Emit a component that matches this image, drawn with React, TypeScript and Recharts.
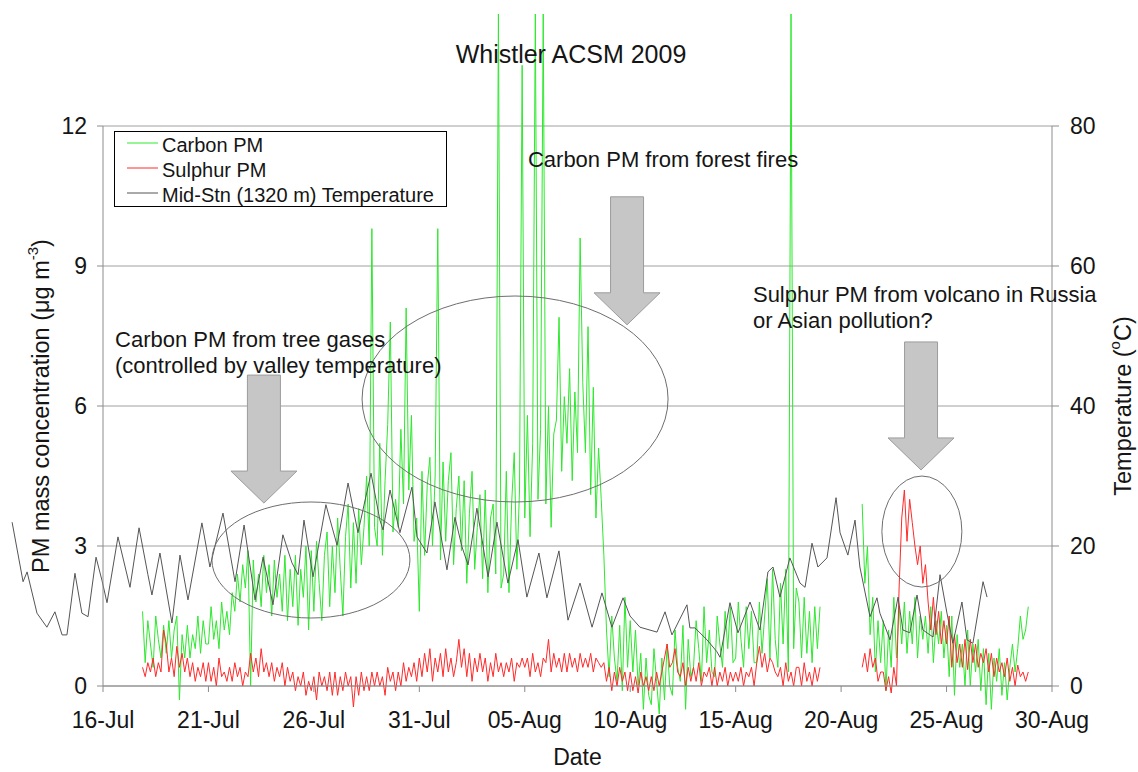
import React from 'react';
import { ComposedChart, Line, XAxis, YAxis, CartesianGrid, ReferenceDot, Legend } from 'recharts';

type V = number | null;
const n = null;

// ---------- axes / categories ----------
const dateTicks = [0, 5, 10, 15, 20, 25, 30, 35, 40, 45]; // days after 16-Jul
const dateTickLabels = ['16-Jul', '21-Jul', '26-Jul', '31-Jul', '05-Aug', '10-Aug', '15-Aug', '20-Aug', '25-Aug', '30-Aug'];
const pmTicks = [0, 3, 6, 9, 12];
const tempTicks = [0, 20, 40, 60, 80];
const seriesNames = ['Carbon PM', 'Sulphur PM', 'Mid-Stn (1320 m) Temperature'];
const chartTitle = 'Whistler ACSM 2009';

// ---------- PM series: one row per day (first row = 17-Jul), samples every 3 h ----------
const pmFirstDay = 1;
const pmSamplesPerDay = 8;

const carbonPM: V[][] = [
  [n, n, n, n, n, n, n, 1.6],
  [0.5, 1.4, 0.9, 0.4, 1.5, 1.0, 0.6, 1.3],
  [0.7, 1.4, 0.6, 1.2, 1.5, -0.3, 1.1, 0.6],
  [1.3, 0.6, 1.1, 0.8, 1.5, 0.7, 1.4, 0.9],
  [0.9, 1.7, 1.0, 1.4, 0.8, 1.8, 1.2, 1.6],
  [1.1, 2.0, 1.6, 2.4, 1.8, 2.6, 2.1, 2.9],
  [0.0, 2.7, 1.8, 2.4, 1.7, 2.8, 2.0, 2.6],
  [1.5, 2.7, 1.9, 2.4, 1.6, 2.8, 1.4, 2.5],
  [1.7, 2.8, 1.3, 2.5, 1.9, 3.0, 1.2, 2.9],
  [1.6, 3.1, 2.2, 1.4, 2.8, 3.3, 1.7, 3.0],
  [2.0, 3.6, 2.5, 1.5, 3.2, 3.9, 2.1, 3.5],
  [2.2, 3.8, 2.6, 3.4, 4.5, 3.0, 9.8, 3.4],
  [3.0, 5.2, 2.8, 4.4, 5.6, 7.8, 3.3, 4.0],
  [3.4, 5.5, 3.9, 8.1, 4.2, 5.8, 3.1, 3.6],
  [1.6, 4.6, 2.8, 4.3, 4.9, 3.0, 4.5, 9.8],
  [2.7, 4.8, 3.1, 4.4, 5.0, 2.6, 3.8, 4.5],
  [2.9, 4.4, 2.2, 3.7, 4.6, 2.5, 3.4, 4.1],
  [2.3, 4.2, 2.0, 3.6, 3.9, 2.4, 14.4, 2.1],
  [2.4, 4.6, 2.0, 3.9, 5.0, 2.5, 4.2, 13.3],
  [3.6, 5.8, 3.2, 5.2, 14.4, 4.0, 5.5, 14.4],
  [3.9, 6.0, 3.4, 5.4, 5.7, 7.9, 4.6, 6.2],
  [5.2, 6.8, 4.4, 6.3, 5.0, 9.6, 6.5, 5.0],
  [7.7, 4.1, 6.4, 3.6, 5.1, 4.0, 2.8, 1.2],
  [0.2, 1.5, 0.6, 0.1, 1.3, -0.1, 1.9, 0.4],
  [1.4, 0.3, 1.2, 0.0, 0.7, -0.5, 0.6, -0.2],
  [-0.4, 0.8, 0.1, -0.6, 0.6, -0.3, 0.9, 0.0],
  [-0.2, 1.2, 0.4, 0.1, 1.3, -0.5, 1.0, 0.2],
  [0.4, 1.4, 0.8, 0.1, 1.7, 0.5, 1.2, 0.3],
  [0.2, 1.5, 0.9, 0.4, 1.6, 0.8, 1.7, 0.5],
  [0.6, 1.8, 1.0, 0.4, 1.7, 0.8, 1.6, 0.5],
  [0.5, 1.8, 0.7, 1.5, 2.3, 0.6, 2.5, 1.0],
  [0.4, 2.2, 0.9, 2.5, 0.3, 14.4, 0.8, 2.1],
  [1.8, 0.6, 1.9, 0.7, 1.6, 0.5, 1.7, 0.8],
  [1.7, n, n, n, n, n, n, n],
  [n, n, n, n, n, n, n, n],
  [3.9, 2.2, 3.0, 1.1, 1.9, 0.3, 1.4, 0.5],
  [1.4, -0.1, 1.2, 0.4, 1.9, 0.6, 1.7, 0.9],
  [1.8, 0.7, 1.6, 0.9, 1.9, 0.6, 1.5, 1.0],
  [1.5, 0.7, 1.7, 0.5, 1.4, 0.9, 1.6, 0.6],
  [1.3, 0.2, 1.5, -0.2, 1.1, 0.4, 0.9, 0.0],
  [1.2, 0.0, 0.9, 0.3, 1.0, -0.1, 0.8, -0.4],
  [0.7, -0.5, 0.6, 0.1, 0.8, -0.2, 0.5, -0.3],
  [0.4, 0.9, 0.3, 0.8, 1.5, 1.0, 1.2, 1.7],
];

const sulphurPM: V[][] = [
  [n, n, n, n, n, n, n, 0.4],
  [0.2, 0.5, 0.3, 0.6, 0.2, 0.5, 0.3, 1.2],
  [0.9, 0.3, 0.6, 0.2, 0.85, 0.4, 0.7, 0.3],
  [0.6, 0.2, 0.5, 0.1, 0.4, 0.2, 0.5, 0.1],
  [0.5, 0.1, 0.4, 0.0, 0.6, 0.2, 0.3, 0.1],
  [0.4, 0.1, 0.5, 0.2, 0.4, 0.0, 0.3, 0.2],
  [0.7, 0.3, 0.6, 0.2, 0.8, 0.3, 0.5, 0.2],
  [0.5, 0.1, 0.4, 0.2, 0.5, 0.0, 0.4, 0.1],
  [0.3, -0.1, 0.2, 0.0, 0.3, -0.2, 0.1, -0.1],
  [0.2, -0.3, 0.3, 0.0, 0.2, -0.1, 0.3, -0.2],
  [0.3, -0.2, 0.2, -0.1, 0.3, 0.0, 0.2, -0.45],
  [0.2, -0.2, 0.3, -0.1, 0.2, -0.1, 0.3, 0.0],
  [0.3, 0.0, 0.2, -0.2, 0.4, 0.1, 0.3, -0.1],
  [0.3, 0.0, 0.5, 0.1, 0.4, 0.2, 0.5, 0.1],
  [0.6, 0.2, 0.7, 0.3, 0.8, 0.1, 0.6, 0.3],
  [0.7, 0.2, 0.8, 0.3, 0.6, 0.2, 0.5, 1.0],
  [0.4, 0.8, 0.2, 0.7, 0.1, 0.6, 0.3, 0.7],
  [0.3, 0.6, 0.1, 0.5, 0.2, 0.7, 0.3, 0.5],
  [0.2, 0.5, 0.3, 0.6, 0.1, 0.5, 0.4, 0.6],
  [0.4, 0.6, 0.2, 0.7, 0.3, 0.5, 0.2, 0.6],
  [0.5, 1.0, 0.3, 0.7, 0.4, 0.6, 0.3, 0.7],
  [0.3, 0.7, 0.4, 0.6, 0.3, 0.7, 0.4, 0.6],
  [0.4, 0.7, 0.3, 0.6, 0.5, 0.4, 0.5, 0.1],
  [0.4, -0.1, 0.3, 0.0, 0.4, 0.1, 0.3, -0.1],
  [0.3, -0.1, 0.2, -0.15, 0.3, 0.0, 0.2, -0.1],
  [0.2, -0.1, 0.3, 0.0, 0.3, 0.6, 0.9, 0.4],
  [0.5, 0.8, 0.3, 0.2, 0.5, 0.0, 0.4, 0.1],
  [0.4, 0.1, 0.5, 0.0, 0.3, 0.2, 0.4, 0.0],
  [0.4, 0.0, 0.3, 0.1, 0.4, 0.0, 0.3, 0.1],
  [0.3, 0.1, 0.4, 0.0, 0.3, 0.2, 0.4, 0.0],
  [0.5, 0.85, 0.4, 0.7, 0.3, 0.6, 0.5, 0.3],
  [0.2, 0.4, 0.0, 0.5, 0.1, 0.3, 0.0, 0.4],
  [0.4, 0.0, 0.5, 0.1, 0.3, 0.0, 0.4, 0.1],
  [0.4, n, n, n, n, n, n, n],
  [n, n, n, n, n, n, n, n],
  [0.4, 0.7, 0.3, 0.8, 0.4, 0.6, 0.1, 0.3],
  [0.3, -0.1, 0.2, -0.15, 0.4, 0.0, 2.1, 3.6],
  [4.2, 3.1, 4.0, 3.5, 3.0, 2.6, 3.0, 2.2],
  [2.6, 1.8, 1.2, 1.9, 1.1, 1.6, 0.9, 1.4],
  [0.9, 1.5, 0.4, 1.1, 0.5, 0.9, 0.4, 1.0],
  [0.35, 1.0, 0.5, 0.9, 0.4, 0.7, 0.5, 0.8],
  [0.3, 0.7, 0.2, 0.6, 0.3, 0.5, 0.2, 0.6],
  [0.1, 0.4, 0.0, 0.45, 0.2, 0.3, 0.1, 0.3],
];

// ---------- temperature: [days after 16-Jul, degC] ----------
const temperature: [number, number][] = [
  [-4.31, 23.4], [-3.79, 14.9], [-3.60, 16.3], [-3.13, 10.4], [-2.66, 8.4], [-2.28, 10.6], [-1.94, 7.3], [-1.71, 7.3],
  [-1.33, 16.1], [-1.00, 10.4], [-0.71, 9.9], [-0.33, 18.4], [-0.05, 15.1], [0.19, 11.9], [0.71, 21.3], [1.28, 14.1],
  [1.71, 22.6], [2.13, 15.9], [2.32, 13.0], [2.70, 19.0], [3.27, 9.0], [3.65, 18.7], [4.03, 12.3], [4.69, 23.3],
  [5.07, 17.0], [5.69, 24.7], [6.26, 14.9], [6.69, 23.0], [7.21, 12.3], [7.59, 18.4], [8.06, 11.6], [8.53, 21.6],
  [8.96, 17.6], [9.25, 15.9], [9.53, 23.7], [9.96, 15.6], [10.57, 25.9], [11.10, 20.1], [11.62, 29.0], [12.09, 21.9],
  [12.71, 30.4], [13.13, 23.7], [13.28, 22.3], [13.61, 28.0], [14.08, 21.9], [14.65, 28.4], [14.89, 21.3], [15.36, 19.0],
  [15.74, 26.3], [16.31, 16.6], [16.69, 24.1], [17.02, 19.9], [17.31, 17.3], [17.73, 25.4], [18.26, 15.6], [18.68, 23.4],
  [19.20, 14.7], [19.68, 20.9], [20.10, 12.7], [20.67, 19.0], [21.05, 12.6], [21.62, 19.3], [22.05, 9.4], [22.62, 14.7],
  [23.19, 8.4], [23.66, 13.3], [24.13, 8.4], [24.66, 12.6], [24.99, 10.0], [25.46, 8.4], [26.27, 7.7], [26.65, 10.6],
  [26.98, 7.3], [27.69, 11.6], [27.83, 8.3], [28.07, 8.3], [28.64, 6.6], [29.11, 4.9], [29.26, 4.1], [29.73, 11.9],
  [30.11, 7.6], [30.68, 12.0], [31.15, 8.0], [31.53, 16.3], [31.77, 17.0], [32.10, 12.7], [32.57, 18.3], [33.05, 14.7],
  [33.29, 14.1], [33.62, 20.4], [33.90, 17.0], [34.33, 18.3], [34.76, 26.9], [34.95, 21.9], [35.32, 18.7], [35.66, 23.7],
  [35.89, 17.0], [36.37, 9.9], [36.70, 12.6], [36.84, 10.4], [37.32, 6.6], [37.70, 12.7], [37.93, 8.0], [38.26, 7.6],
  [38.60, 13.0], [38.88, 8.0], [39.36, 7.0], [39.69, 15.9], [40.02, 10.4], [40.30, 6.1], [40.73, 12.0], [40.97, 6.6],
  [41.25, 6.1], [41.73, 14.9], [41.92, 12.7],
];

// ---------- annotation texts ----------
const noteTreeGases = ['Carbon PM from tree gases', '(controlled by valley temperature)'];
const noteForestFires = ['Carbon PM from forest fires'];
const noteVolcano = ['Sulphur PM from volcano in Russia', 'or Asian pollution?'];

// ---------- layout / style (not data) ----------
const FONT = '"Liberation Sans", Arial, Helvetica, sans-serif';
const COLORS = { carbon: '#2ee82e', sulphur: '#ff2a2a', temp: '#555555' };
const seriesColors = [COLORS.carbon, COLORS.sulphur, COLORS.temp];

const ellipsesLayout = [
  { day: 9.86, value: 2.7, rx: 99, ry: 58 },
  { day: 19.54, value: 6.15, rx: 153, ry: 103 },
  { day: 38.83, value: 3.31, rx: 40, ry: 55.5 },
];
const arrowsLayout = [
  { day: 7.63, value: 3.92 },
  { day: 24.85, value: 7.74 },
  { day: 38.79, value: 4.63 },
];
const notesLayout = [
  { day: 0.57, value: 7.26, lines: noteTreeGases },
  { day: 20.15, value: 11.12, lines: noteForestFires },
  { day: 30.82, value: 8.23, lines: noteVolcano },
];
const titleLayout = { day: 22.19, value: 13.35 };

// ---------- build chart tables ----------
const pmData = carbonPM.flatMap((row, i) =>
  row.map((c, k) => ({ t: pmFirstDay + i + k / pmSamplesPerDay, carbon: c, sulphur: sulphurPM[i][k] }))
);
const tempData = temperature.map(([t, v]) => ({ t, temp: v }));

const css = `
.recharts-line, .recharts-line * { clip-path: none !important; }
.recharts-surface { overflow: visible; }
`;

const arrowShape = (p: any) => {
  const { cx, cy } = p;
  const hw = 33, sw = 16.5, hh = 32, len = 128;
  const pts = [
    [cx, cy], [cx - hw, cy - hh], [cx - sw, cy - hh], [cx - sw, cy - len],
    [cx + sw, cy - len], [cx + sw, cy - hh], [cx + hw, cy - hh],
  ].map((q) => q.join(',')).join(' ');
  return <polygon points={pts} fill="#c6c6c6" stroke="#9c9c9c" strokeWidth={1} />;
};

const noteShape = (lines: string[]) => (p: any) => (
  <text x={p.cx} y={p.cy} fontSize={22} fill="#151515" fontFamily={FONT}>
    {lines.map((l, i) => (
      <tspan key={i} x={p.cx} dy={i === 0 ? 0 : 26}>{l}</tspan>
    ))}
  </text>
);

const titleShape = (p: any) => (
  <text x={p.cx} y={p.cy} fontSize={25} fill="#151515" textAnchor="middle" fontFamily={FONT}>{chartTitle}</text>
);

const renderLeftTitle = (props: any) => {
  const vb = props && props.viewBox && props.viewBox.height ? props.viewBox : { x: 43, y: 126, width: 60, height: 560 };
  const cx = vb.x - 2;
  const cy = vb.y + vb.height / 2;
  return (
    <text x={cx} y={cy} transform={`rotate(-90, ${cx}, ${cy})`} textAnchor="middle" dominantBaseline="central" fontSize={23.5} fill="#151515" fontFamily={FONT}>
      PM mass concentration (μg m<tspan dy={-9} fontSize={15}>-3</tspan><tspan dy={9}>)</tspan>
    </text>
  );
};

const renderRightTitle = (props: any) => {
  const vb = props && props.viewBox && props.viewBox.height ? props.viewBox : { x: 1052, y: 126, width: 60, height: 560 };
  const cx = vb.x + 71;
  const cy = vb.y + vb.height / 2;
  return (
    <text x={cx} y={cy} transform={`rotate(-90, ${cx}, ${cy})`} textAnchor="middle" dominantBaseline="central" fontSize={23.5} fill="#151515" fontFamily={FONT}>
      Temperature (<tspan dy={-9} fontSize={15}>o</tspan><tspan dy={9}>C)</tspan>
    </text>
  );
};

const renderXTitle = (props: any) => {
  const vb = props && props.viewBox && props.viewBox.width ? props.viewBox : { x: 103, y: 686, width: 949, height: 40 };
  return (
    <text x={vb.x + vb.width / 2} y={765} textAnchor="middle" fontSize={23} fill="#151515" fontFamily={FONT}>Date</text>
  );
};

const renderLegend = () => (
  <div
    style={{
      boxSizing: 'border-box', width: 333, height: 76, border: '1.5px solid #000', background: '#fff',
      paddingTop: 0.5, fontSize: 20, fontFamily: FONT, color: '#151515', lineHeight: '25px',
    }}
  >
    {seriesNames.map((name, i) => (
      <div key={name} style={{ display: 'flex', alignItems: 'center', height: 25, whiteSpace: 'nowrap' }}>
        <svg width={31} height={4} style={{ marginLeft: 12, marginRight: 4, position: 'relative', top: -2 }}>
          <line x1={0} y1={2} x2={31} y2={2} stroke={seriesColors[i]} strokeWidth={1} />
        </svg>
        <span>{name}</span>
      </div>
    ))}
  </div>
);

export default function App() {
  return (
    <div style={{ position: 'absolute', left: 0, top: 0, width: 1138, height: 772, background: '#fff', fontFamily: FONT }}>
      <style>{css}</style>
      <ComposedChart
        width={1138}
        height={772}
        margin={{ top: 126, right: 26, bottom: 46, left: 43 }}
        style={{ fontFamily: FONT }}
      >
        <CartesianGrid yAxisId="pm" vertical={false} stroke="#a0a0a0" />
        <XAxis
          dataKey="t"
          type="number"
          domain={[0, 45]}
          allowDataOverflow
          ticks={dateTicks}
          interval={0}
          tickFormatter={(v: number) => dateTickLabels[dateTicks.indexOf(v)] ?? ''}
          height={40}
          tickSize={6}
          tickMargin={20}
          stroke="#8c8c8c"
          tick={{ fontSize: 23, fill: '#151515', fontFamily: FONT }}
          label={renderXTitle}
        />
        <YAxis
          yAxisId="pm"
          type="number"
          domain={[0, 12]}
          allowDataOverflow
          ticks={pmTicks}
          interval={0}
          width={60}
          tickSize={6}
          tickMargin={10}
          stroke="#8c8c8c"
          tick={{ fontSize: 23, fill: '#151515', fontFamily: FONT }}
          label={renderLeftTitle}
        />
        <YAxis
          yAxisId="temp"
          orientation="right"
          type="number"
          domain={[0, 80]}
          allowDataOverflow
          ticks={tempTicks}
          interval={0}
          width={60}
          tickSize={7}
          tickMargin={11}
          stroke="#8c8c8c"
          tick={{ fontSize: 23, fill: '#151515', fontFamily: FONT }}
          label={renderRightTitle}
        />
        <Legend
          layout="vertical"
          align="center"
          verticalAlign="middle"
          wrapperStyle={{ left: 114, top: 131, width: 333, height: 76 }}
          content={renderLegend}
        />
        <Line
          data={pmData}
          dataKey="carbon"
          name={seriesNames[0]}
          yAxisId="pm"
          type="linear"
          stroke={COLORS.carbon}
          strokeWidth={1}
          dot={false}
          activeDot={false}
          isAnimationActive={false}
        />
        <Line
          data={pmData}
          dataKey="sulphur"
          name={seriesNames[1]}
          yAxisId="pm"
          type="linear"
          stroke={COLORS.sulphur}
          strokeWidth={1}
          dot={false}
          activeDot={false}
          isAnimationActive={false}
        />
        <Line
          data={tempData}
          dataKey="temp"
          name={seriesNames[2]}
          yAxisId="temp"
          type="linear"
          stroke={COLORS.temp}
          strokeWidth={1}
          dot={false}
          activeDot={false}
          isAnimationActive={false}
        />
        {ellipsesLayout.map((e, i) => (
          <ReferenceDot
            key={`e${i}`}
            yAxisId="pm"
            x={e.day}
            y={e.value}
            ifOverflow="visible"
            shape={(p: any) => <ellipse cx={p.cx} cy={p.cy} rx={e.rx} ry={e.ry} fill="none" stroke="#6e6e6e" strokeWidth={1} />}
          />
        ))}
        {arrowsLayout.map((a, i) => (
          <ReferenceDot key={`a${i}`} yAxisId="pm" x={a.day} y={a.value} ifOverflow="visible" shape={arrowShape} />
        ))}
        {notesLayout.map((t, i) => (
          <ReferenceDot key={`t${i}`} yAxisId="pm" x={t.day} y={t.value} ifOverflow="visible" shape={noteShape(t.lines)} />
        ))}
        <ReferenceDot yAxisId="pm" x={titleLayout.day} y={titleLayout.value} ifOverflow="visible" shape={titleShape} />
      </ComposedChart>
    </div>
  );
}
